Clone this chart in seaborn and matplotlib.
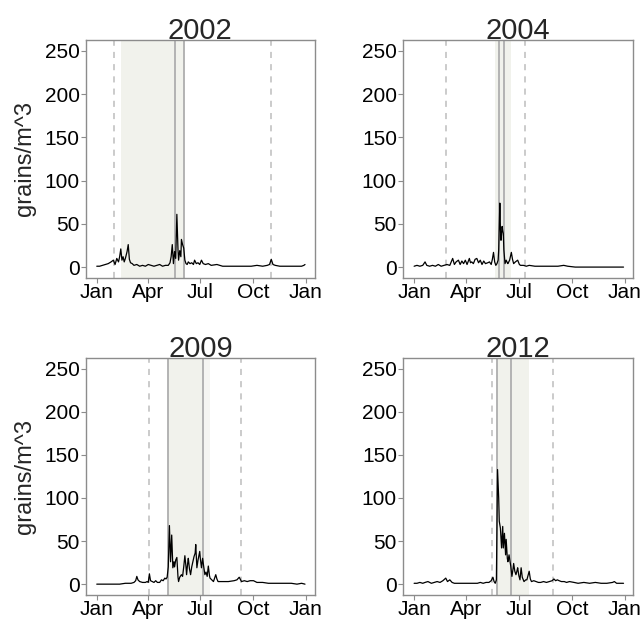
import numpy as np
import pandas as pd
import seaborn as sns
import matplotlib.pyplot as plt

sns.set_style("white")
plt.rcParams['font.family'] = ['Liberation Sans', 'DejaVu Sans']

years = [2002, 2004, 2009, 2012]

# daily pollen counts (day of year -> grains/m^3)
day_2002 = [0, 5, 10, 15, 20, 25, 29, 32, 35, 38, 40, 42, 44, 46, 48, 50, 53, 55, 57, 59,
            62, 65, 70, 75, 80, 85, 90, 95, 100, 105, 110, 115, 120, 125, 128, 130, 132, 134, 136, 138,
            140, 142, 143, 145, 147, 148, 150, 152, 154, 156, 158, 160, 163, 166, 169, 171, 174, 177, 180, 183,
            186, 190, 195, 200, 210, 220, 230, 240, 250, 260, 270, 280, 290, 298, 302, 305, 308, 312, 320, 330,
            340, 350, 358, 362, 364]
val_2002 = [1, 1, 2, 3, 4, 6, 8, 3, 10, 6, 12, 21, 8, 12, 6, 10, 18, 26, 9, 5,
            4, 2, 3, 1, 2, 1, 3, 2, 1, 2, 3, 1, 2, 2, 5, 12, 26, 4, 18, 10,
            61, 20, 8, 19, 12, 32, 26, 22, 8, 4, 3, 6, 4, 5, 3, 8, 4, 5, 3, 8,
            4, 3, 4, 2, 3, 1, 1, 1, 1, 1, 1, 2, 1, 2, 3, 9, 3, 2, 1, 1,
            1, 1, 1, 2, 3]

day_2004 = [0, 5, 10, 15, 19, 22, 27, 32, 37, 42, 47, 52, 57, 62, 67, 70, 73, 77, 80, 83,
            86, 89, 92, 96, 98, 100, 103, 106, 109, 112, 115, 118, 121, 124, 128, 131, 134, 136, 138, 140,
            142, 144, 146, 147, 149, 150, 151, 152, 153, 154, 155, 156, 158, 160, 162, 163, 166, 169, 171, 173,
            176, 180, 183, 185, 190, 195, 200, 210, 220, 230, 240, 250, 260, 267, 280, 300, 330, 364]
val_2004 = [1, 2, 1, 2, 6, 2, 1, 2, 1, 3, 1, 2, 3, 2, 10, 3, 6, 8, 3, 7,
            4, 8, 3, 10, 5, 6, 4, 9, 10, 5, 8, 3, 7, 4, 5, 6, 3, 9, 17, 6,
            2, 4, 8, 20, 74, 45, 31, 38, 47, 42, 39, 20, 4, 8, 5, 4, 8, 17, 9, 4,
            6, 8, 3, 2, 2, 1, 2, 1, 1, 1, 1, 1, 2, 1, 0, 0, 0, 0]

day_2009 = [0, 10, 20, 30, 40, 50, 60, 65, 68, 70, 72, 75, 80, 85, 88, 90, 92, 94, 97, 100,
            103, 106, 110, 113, 116, 119, 121, 123, 125, 127, 129, 131, 133, 135, 136, 138, 140, 142, 143, 145,
            148, 150, 152, 154, 156, 157, 159, 160, 162, 164, 166, 168, 170, 172, 173, 175, 177, 180, 181, 183,
            185, 187, 189, 191, 193, 195, 197, 198, 201, 204, 208, 210, 212, 216, 221, 230, 240, 245, 249, 253,
            258, 263, 268, 274, 280, 285, 290, 300, 310, 320, 330, 340, 350, 358, 364]
val_2009 = [0, 0, 0, 0, 0, 1, 1, 2, 4, 9, 5, 3, 2, 2, 3, 2, 12, 4, 3, 2,
            4, 2, 2, 5, 4, 7, 6, 8, 20, 68, 26, 57, 19, 26, 20, 28, 31, 8, 3, 8,
            11, 9, 20, 33, 20, 11, 25, 30, 18, 11, 20, 26, 32, 36, 46, 19, 28, 38, 30, 19,
            30, 20, 11, 14, 9, 21, 10, 7, 5, 3, 11, 6, 3, 3, 3, 3, 4, 5, 8, 3,
            4, 3, 4, 4, 2, 2, 2, 1, 1, 1, 1, 1, 0, 1, 0]

day_2012 = [0, 5, 10, 15, 19, 24, 30, 35, 40, 45, 50, 55, 58, 62, 66, 70, 80, 90, 100, 110,
            115, 120, 125, 130, 134, 137, 139, 141, 143, 145, 147, 148, 150, 152, 154, 155, 157, 159, 160, 162,
            163, 165, 167, 168, 170, 172, 173, 175, 177, 179, 180, 182, 184, 186, 188, 191, 194, 196, 198, 200,
            202, 204, 208, 212, 216, 220, 225, 230, 235, 240, 243, 246, 249, 252, 256, 261, 265, 270, 278, 285,
            295, 305, 315, 325, 335, 345, 348, 352, 358, 364]
val_2012 = [1, 1, 2, 1, 2, 3, 1, 2, 3, 2, 4, 7, 3, 5, 2, 1, 1, 1, 1, 1,
            2, 1, 2, 2, 4, 8, 3, 1, 5, 133, 100, 73, 65, 42, 67, 42, 59, 34, 52, 30,
            26, 34, 25, 21, 9, 18, 24, 15, 11, 16, 19, 10, 5, 19, 8, 3, 5, 5, 10, 15,
            6, 3, 4, 3, 2, 2, 3, 2, 3, 4, 6, 4, 5, 4, 3, 3, 2, 3, 2, 1,
            2, 1, 2, 1, 1, 2, 3, 1, 1, 1]

days = {2002: day_2002, 2004: day_2004, 2009: day_2009, 2012: day_2012}
vals = {2002: val_2002, 2004: val_2004, 2009: val_2009, 2012: val_2012}

# season start/end (dashed), peak period (shaded) and marker lines (solid)
season = {2002: [31, 305], 2004: [55, 192], 2009: [92, 252], 2012: [135, 242]}
peak = {2002: [43, 152], 2004: [141, 169], 2009: [124, 186], 2012: [144, 200]}
peak_tail = {2002: None, 2004: None, 2009: [186, 198], 2012: None}
markers = {2002: [136, 152], 2004: [147, 157], 2009: [124, 185], 2012: [144, 168]}

month_ticks = ["01-01", "04-01", "07-01", "10-01"]
month_labels = ["Jan", "Apr", "Jul", "Oct", "Jan"]

fig = plt.figure(figsize=(6.41, 6.21), dpi=100)
positions = [(0.134, 0.5525, 0.357, 0.383), (0.629, 0.5525, 0.359, 0.383),
             (0.134, 0.042, 0.357, 0.3815), (0.629, 0.042, 0.359, 0.3815)]

for i, yr in enumerate(years):
    ax = fig.add_axes(positions[i])
    start = pd.Timestamp(f"{yr}-01-01")
    df = pd.DataFrame({"date": start + pd.to_timedelta(days[yr], unit="D"),
                       "pollen": vals[yr]})

    p0, p1 = [start + pd.Timedelta(days=d) for d in peak[yr]]
    ax.axvspan(p0, p1, color="#f1f2ec", lw=0, zorder=0)
    if peak_tail[yr] is not None:
        t0, t1 = [start + pd.Timedelta(days=d) for d in peak_tail[yr]]
        ax.axvspan(t0, t1, color="#f5f5f2", lw=0, zorder=0)
    for d in season[yr]:
        ax.axvline(start + pd.Timedelta(days=d), color="#bdbdbd", lw=1.1,
                   ls=(0, (4, 4)), zorder=1)
    for d in markers[yr]:
        ax.axvline(start + pd.Timedelta(days=d), color="#b3b3b3", lw=1.4, zorder=1)

    sns.lineplot(data=df, x="date", y="pollen", ax=ax, color="black", lw=0.9,
                 legend=False, zorder=3)

    ticks = [pd.Timestamp(f"{yr}-{m}") for m in month_ticks] + [pd.Timestamp(f"{yr + 1}-01-01")]
    ax.set_xticks(ticks)
    ax.set_xticklabels(month_labels)
    ax.set_xlim(start - pd.Timedelta(days=19), start + pd.Timedelta(days=381))
    ax.set_ylim(-12.5, 262.5)
    ax.set_yticks([0, 50, 100, 150, 200, 250])

    ax.set_title(str(yr), fontsize=21, pad=1)
    ax.set_xlabel("")
    if i % 2 == 0:
        ax.set_ylabel("grains/m^3", fontsize=17, labelpad=6)
    else:
        ax.set_ylabel("")

    for s in ax.spines.values():
        s.set_color("#8c8c8c")
        s.set_linewidth(1.0)
    ax.tick_params(axis="both", which="major", direction="out", length=3.5, width=0.8,
                   color="#8c8c8c", labelsize=15, labelcolor="black", pad=1,
                   bottom=True, left=True)
    ax.tick_params(axis="x", pad=0.5)

fig.savefig("out.png", dpi=100)
